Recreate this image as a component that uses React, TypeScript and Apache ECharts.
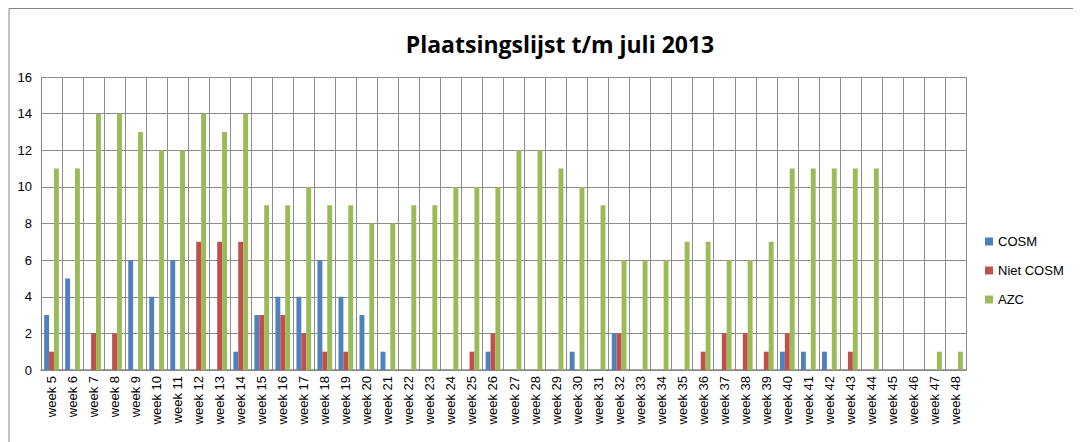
import React, { useEffect, useRef } from "react";
import * as echarts from "echarts";

const weeks: string[] = [];
for (let w = 5; w <= 48; w++) weeks.push("week " + w);

const cosm = [3, 5, 0, 0, 6, 4, 6, 0, 0, 1, 3, 4, 4, 6, 4, 3, 1, 0, 0, 0, 0, 1, 0, 0, 0, 1, 0, 2, 0, 0, 0, 0, 0, 0, 0, 1, 1, 1, 0, 0, 0, 0, 0, 0];
const nietCosm = [1, 0, 2, 2, 0, 0, 0, 7, 7, 7, 3, 3, 2, 1, 1, 0, 0, 0, 0, 0, 1, 2, 0, 0, 0, 0, 0, 2, 0, 0, 0, 1, 2, 2, 1, 2, 0, 0, 1, 0, 0, 0, 0, 0];
const azc = [11, 11, 14, 14, 13, 12, 12, 14, 13, 14, 9, 9, 10, 9, 9, 8, 8, 9, 9, 10, 10, 10, 12, 12, 11, 10, 9, 6, 6, 6, 7, 7, 6, 6, 7, 11, 11, 11, 11, 11, 0, 0, 1, 1];

const yTicks = [0, 2, 4, 6, 8, 10, 12, 14, 16];

export default function App() {
  const ref = useRef<HTMLDivElement>(null);
  useEffect(() => {
    const chart = echarts.init(ref.current!, null, { renderer: "svg" });
    const font = "'Liberation Sans', Arial, sans-serif";
    chart.setOption({
      animation: false,
      textStyle: { fontFamily: font },
      title: {
        text: "Plaatsingslijst t/m juli 2013",
        left: 547,
        top: 19,
        textAlign: "center",
        textStyle: { fontSize: 23, fontWeight: "bold", color: "#000", fontFamily: "'Open Sans', sans-serif" },
      },
      graphic: [
        {
          type: "rect",
          shape: { x: 1, y: 0.5, width: 1200, height: 600 },
          style: { fill: "none", stroke: "#868686", lineWidth: 1 },
          silent: true,
        },
      ],
      legend: {
        orient: "vertical",
        left: 972,
        top: 222,
        itemWidth: 8,
        itemHeight: 8,
        itemGap: 16,
        icon: "rect",
        textStyle: { fontSize: 13, color: "#000", fontFamily: font },
        data: ["COSM", "Niet COSM", "AZC"],
      },
      grid: { left: 33, top: 69, width: 925, height: 293, containLabel: false },
      xAxis: {
        type: "category",
        data: weeks,
        axisLine: { show: true, lineStyle: { color: "#868686", width: 1.5 } },
        axisTick: { show: false },
        splitLine: { show: true, lineStyle: { color: "#8c8c8c", width: 1 } },
        axisLabel: { rotate: 90, fontSize: 13, color: "#000", margin: 6, interval: 0, fontFamily: font },
      },
      yAxis: {
        type: "value",
        min: 0,
        max: 16,
        interval: 2,
        axisLine: { show: true, lineStyle: { color: "#868686" } },
        axisTick: { show: false },
        splitLine: { show: true, lineStyle: { color: "#8c8c8c", width: 1 } },
        axisLabel: { fontSize: 13, color: "#000", margin: 9, fontFamily: font,
          formatter: (v: number) => (yTicks.includes(v) ? String(v) : "") },
      },
      series: [
        { name: "COSM", type: "bar", data: cosm, barGap: "0%", barCategoryGap: "30%", itemStyle: { color: "#4F81BD" } },
        { name: "Niet COSM", type: "bar", data: nietCosm, barGap: "0%", barCategoryGap: "30%", itemStyle: { color: "#C0504D" } },
        { name: "AZC", type: "bar", data: azc, barGap: "0%", barCategoryGap: "30%", itemStyle: { color: "#9BBB59" } },
      ],
    });
    return () => chart.dispose();
  }, []);
  return <div ref={ref} style={{ width: 1073, height: 434 }} />;
}
